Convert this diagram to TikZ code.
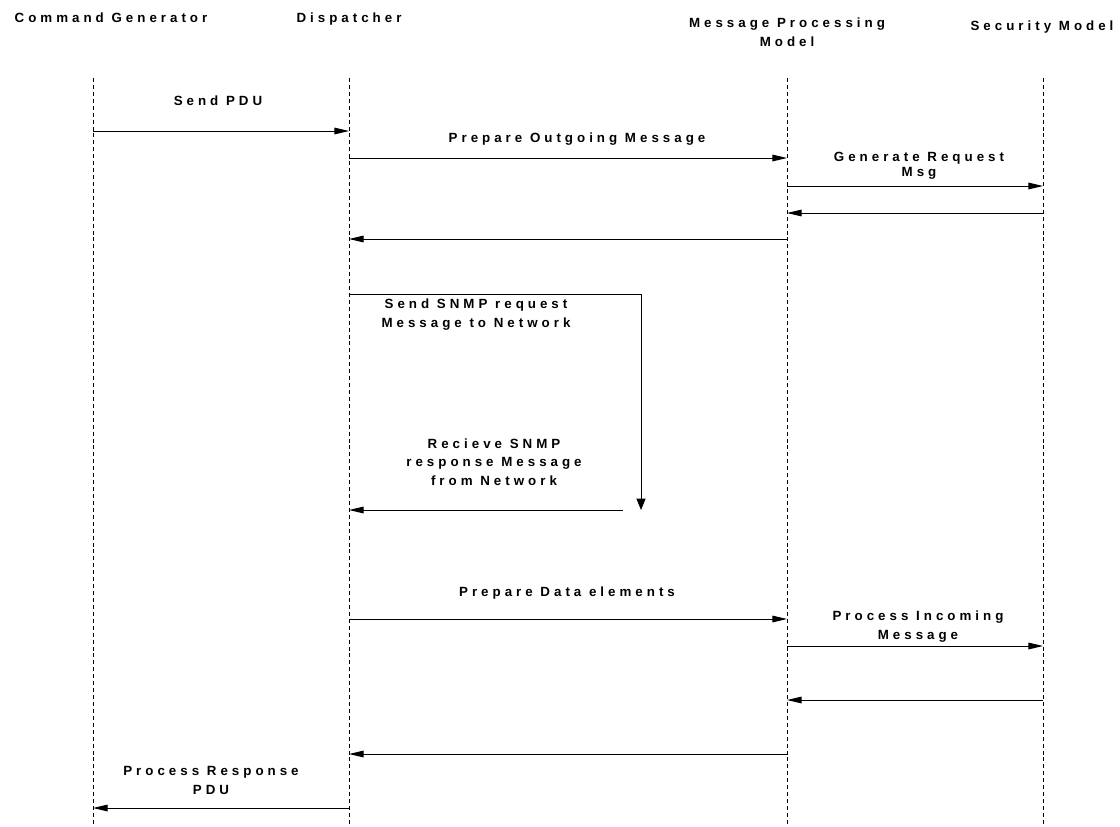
\documentclass[tikz,border=0pt]{standalone}
\usepackage{fontspec}
\setmainfont{Liberation Sans}[LetterSpace=30]
\usetikzlibrary{arrows.meta}

\begin{document}
\begin{tikzpicture}[x=0.75pt, y=-0.75pt,
    every node/.style={font=\fontsize{10}{13.9}\selectfont\bfseries, inner sep=0pt},
    lifeline/.style={black, line width=0.6pt, dash pattern=on 3pt off 2.2pt},
    msg/.style={-{Triangle[length=11pt,width=5pt]}, line width=0.75pt},
    lbl/.style={anchor=base, align=center}]
  \useasboundingbox (0,0) rectangle (1120,826);

  % column heads (base = last line)
  \node[lbl] (cgHead) at (111,22.5) {Command Generator};
  \node[lbl] (dispHead) at (349,22.5) {Dispatcher};
  \node[lbl] (mpmHead) at (787,46.5) {Message Processing\\Model};
  \node[lbl] (secHead) at (1042,30) {Security Model};

  % lifelines
  \coordinate (cg) at (93,78);
  \coordinate (disp) at (349,78);
  \coordinate (mpm) at (787,78);
  \coordinate (sec) at (1043,78);
  \foreach \l in {cg, disp, mpm, sec}
    \draw[lifeline] (\l) -- (\l |- 0,826);

  % message rows
  \foreach \n/\y in {m1/131, m2/158, m3/186, m4/213, m5/239,
                     m6/619, m7/646, m8/700, m9/754, m10/808}
    \coordinate (\n) at (0,\y);

  % outgoing request
  \draw[msg] (cg |- m1) -- (disp |- m1);
  \node[lbl] (sendPdu) at (218,105.5) {Send PDU};
  \draw[msg] (disp |- m2) -- (mpm |- m2);
  \node[lbl] (prepOut) at (577,142.5) {Prepare Outgoing Message};
  \draw[msg] (mpm |- m3) -- (sec |- m3);
  \node[lbl, font=\fontsize{10}{11.2}\selectfont\bfseries] (genReq) at (919,176.5) {Generate Request\\Msg};
  \draw[msg] (sec |- m4) -- (mpm |- m4);
  \draw[msg] (mpm |- m5) -- (disp |- m5);

  % network round trip
  \coordinate (netOut) at (641,294);
  \coordinate (netEnd) at (641,510);
  \coordinate (netIn) at (623,510);
  \draw[-{Triangle[length=8.5pt,width=6.8pt]}, line width=0.75pt]
    (disp |- netOut) -- (netOut) -- (netEnd);
  \node[lbl] (sendSnmp) at (476,327.5) {Send SNMP request\\Message to Network};
  \draw[msg] (netIn) -- (disp |- netIn);
  \node[lbl] (recvSnmp) at (494,485.5) {Recieve SNMP\\response Message\\from Network};

  % incoming response
  \draw[msg] (disp |- m6) -- (mpm |- m6);
  \node[lbl] (prepData) at (567,596.5) {Prepare Data elements};
  \draw[msg] (mpm |- m7) -- (sec |- m7);
  \node[lbl] (procIn) at (918,639.5) {Process Incoming\\Message};
  \draw[msg] (sec |- m8) -- (mpm |- m8);
  \draw[msg] (mpm |- m9) -- (disp |- m9);
  \draw[msg] (disp |- m10) -- (cg |- m10);
  \node[lbl] (procResp) at (211,794.5) {Process Response\\PDU};
\end{tikzpicture}
\end{document}
